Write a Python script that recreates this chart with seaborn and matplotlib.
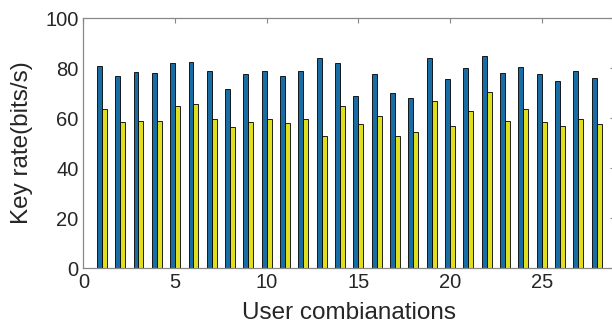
import numpy as np
import pandas as pd
import matplotlib
matplotlib.use("Agg")
import matplotlib.pyplot as plt
import seaborn as sns

# key rate per user combination
combos = list(range(1, 29))
rate_a = [81, 77, 78.5, 78, 82, 82.5, 79, 71.5, 77.5, 79, 77, 79, 84, 82,
          69, 77.5, 70, 68, 84, 75.5, 80, 85, 78, 80.5, 77.5, 75, 79, 76]
rate_b = [63.5, 58.5, 59, 59, 65, 65.5, 59.5, 56.5, 58.5, 59.5, 58, 59.5, 53, 65,
          57.5, 61, 53, 54.5, 67, 57, 63, 70.5, 59, 63.5, 58.5, 57, 59.5, 57.5]

df = pd.DataFrame({
    "combo": combos * 2,
    "rate": rate_a + rate_b,
    "series": ["a"] * len(combos) + ["b"] * len(combos),
})

sns.set_style("white")
plt.rcParams['font.family'] = ['Liberation Sans', 'DejaVu Sans']

fig = plt.figure(figsize=(6.12, 3.31), dpi=100)
ax = fig.add_axes([83.5 / 612, 63 / 331, (615 - 83.5) / 612, 250 / 331])

sns.barplot(data=df, x="combo", y="rate", hue="series", native_scale=True,
            palette=["#0072BD", "#FFFF00"], width=0.54, gap=0,
            edgecolor="black", linewidth=0.6, errorbar=None, legend=False, ax=ax)

ax.set_xlim(0, 29)
ax.set_ylim(0, 100)
ax.set_xticks([0, 5, 10, 15, 20, 25])
ax.set_yticks([0, 20, 40, 60, 80, 100])
ax.tick_params(direction="in", length=3.5, width=0.8, colors="#888888",
               labelcolor="#262626", labelsize=14.5, top=True, right=True)
for s in ax.spines.values():
    s.set_color("#888888")
    s.set_linewidth(0.9)

ax.set_xlabel("User combianations", fontsize=17.5, color="#262626", labelpad=7)
ax.set_ylabel("Key rate(bits/s)", fontsize=17.5, color="#262626", labelpad=9)

fig.savefig("out.png", dpi=100)
